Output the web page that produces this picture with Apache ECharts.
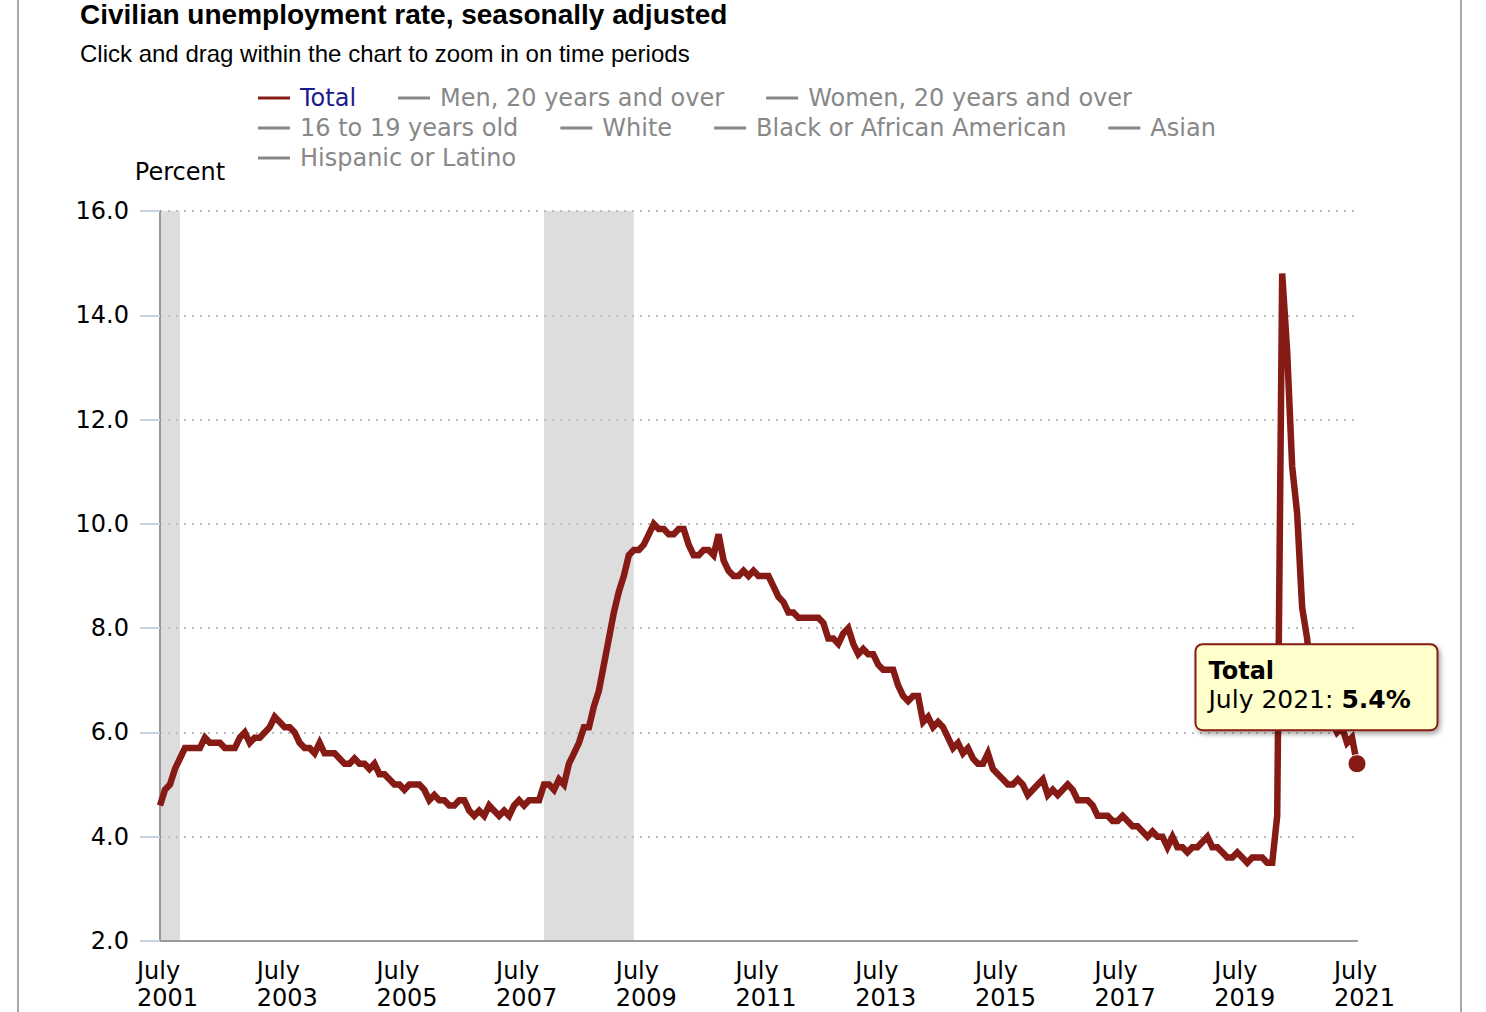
<!DOCTYPE html>
<html><head><meta charset="utf-8">
<script src="https://cdn.jsdelivr.net/npm/echarts/dist/echarts.min.js"></script>
<style>
html,body{margin:0;padding:0;background:#fff;}
#frame{position:absolute;left:17px;top:0;width:1441px;height:1012px;border-left:2px solid #a8a8a8;border-right:2px solid #a8a8a8;}
#chart{position:absolute;left:0;top:0;width:1486px;height:1012px;}
</style></head><body>
<div id="frame"></div><div id="chart"></div>
<script>
const seriesNames = ['Total','Men, 20 years and over','Women, 20 years and over','16 to 19 years old','White','Black or African American','Asian','Hispanic or Latino'];
const monthNames = ['January','February','March','April','May','June','July','August','September','October','November','December'];
const startYear = 2001, startMonth = 7;
// Civilian unemployment rate, Total, monthly from July 2001 to July 2021 (percent)
const totalRate = [
  4.6, 4.9, 5.0, 5.3, 5.5, 5.7,
  5.7, 5.7, 5.7, 5.9, 5.8, 5.8, 5.8, 5.7, 5.7, 5.7, 5.9, 6.0,
  5.8, 5.9, 5.9, 6.0, 6.1, 6.3, 6.2, 6.1, 6.1, 6.0, 5.8, 5.7,
  5.7, 5.6, 5.8, 5.6, 5.6, 5.6, 5.5, 5.4, 5.4, 5.5, 5.4, 5.4,
  5.3, 5.4, 5.2, 5.2, 5.1, 5.0, 5.0, 4.9, 5.0, 5.0, 5.0, 4.9,
  4.7, 4.8, 4.7, 4.7, 4.6, 4.6, 4.7, 4.7, 4.5, 4.4, 4.5, 4.4,
  4.6, 4.5, 4.4, 4.5, 4.4, 4.6, 4.7, 4.6, 4.7, 4.7, 4.7, 5.0,
  5.0, 4.9, 5.1, 5.0, 5.4, 5.6, 5.8, 6.1, 6.1, 6.5, 6.8, 7.3,
  7.8, 8.3, 8.7, 9.0, 9.4, 9.5, 9.5, 9.6, 9.8, 10.0, 9.9, 9.9,
  9.8, 9.8, 9.9, 9.9, 9.6, 9.4, 9.4, 9.5, 9.5, 9.4, 9.8, 9.3,
  9.1, 9.0, 9.0, 9.1, 9.0, 9.1, 9.0, 9.0, 9.0, 8.8, 8.6, 8.5,
  8.3, 8.3, 8.2, 8.2, 8.2, 8.2, 8.2, 8.1, 7.8, 7.8, 7.7, 7.9,
  8.0, 7.7, 7.5, 7.6, 7.5, 7.5, 7.3, 7.2, 7.2, 7.2, 6.9, 6.7,
  6.6, 6.7, 6.7, 6.2, 6.3, 6.1, 6.2, 6.1, 5.9, 5.7, 5.8, 5.6,
  5.7, 5.5, 5.4, 5.4, 5.6, 5.3, 5.2, 5.1, 5.0, 5.0, 5.1, 5.0,
  4.8, 4.9, 5.0, 5.1, 4.8, 4.9, 4.8, 4.9, 5.0, 4.9, 4.7, 4.7,
  4.7, 4.6, 4.4, 4.4, 4.4, 4.3, 4.3, 4.4, 4.3, 4.2, 4.2, 4.1,
  4.0, 4.1, 4.0, 4.0, 3.8, 4.0, 3.8, 3.8, 3.7, 3.8, 3.8, 3.9,
  4.0, 3.8, 3.8, 3.7, 3.6, 3.6, 3.7, 3.6, 3.5, 3.6, 3.6, 3.6,
  3.5, 3.5, 4.4, 14.8, 13.3, 11.1, 10.2, 8.4, 7.8, 6.9, 6.7, 6.7,
  6.3, 6.2, 6.0, 6.1, 5.8, 5.9, 5.4
];
const recessions = [['2001-07','2001-11'],['2007-12','2009-06']];
const yMin = 2, yMax = 16, yInterval = 2;

const categories = [];
for (let i = 0; i < totalRate.length; i++) {
  const m0 = (startMonth - 1) + i;
  const y = startYear + Math.floor(m0 / 12);
  const m = m0 % 12 + 1;
  categories.push(y + '-' + String(m).padStart(2, '0'));
}
const lastCat = categories[categories.length - 1];
const lastVal = totalRate[totalRate.length - 1];
const catLabel = c => monthNames[parseInt(c.slice(5), 10) - 1] + ' ' + c.slice(0, 4);

const lineColor = '#861a14';
const FONT = 'DejaVu Sans, Verdana, sans-serif';

const chart = echarts.init(document.getElementById('chart'), null, {renderer: 'svg'});
const selected = {};
seriesNames.forEach((n, i) => { selected[n] = i === 0; });

const option = {
  animation: false,
  backgroundColor: 'transparent',
  title: [
    {text: 'Civilian unemployment rate, seasonally adjusted', left: 80, top: 0, padding: 0,
     textStyle: {fontFamily: 'Liberation Sans, Arial, sans-serif', fontSize: 28, fontWeight: 'bold', color: '#000', lineHeight: 28}},
    {text: 'Click and drag within the chart to zoom in on time periods', left: 80, top: 41, padding: 0,
     textStyle: {fontFamily: 'Liberation Sans, Arial, sans-serif', fontSize: 24, fontWeight: 'normal', color: '#000', lineHeight: 24}}
  ],
  legend: {
    left: 258, top: 86, width: 1100, padding: 0, itemGap: 6,
    itemWidth: 32, itemHeight: 3, icon: 'rect',
    inactiveColor: '#888', inactiveBorderColor: '#888',
    selectedMode: true,
    textStyle: {fontFamily: FONT, fontSize: 24, lineHeight: 24, color: '#888', padding: [0, 36, 0, 5]},
    selected: selected,
    data: seriesNames.map((n, i) => i === 0 ? {name: n, textStyle: {color: '#1c1c8c'}} : {name: n})
  },
  grid: {left: 160, right: 129, top: 211, bottom: 71, containLabel: false},
  xAxis: {
    type: 'category', data: categories, boundaryGap: false, z: 2,
    axisLine: {show: true, lineStyle: {color: '#999', width: 2}},
    axisTick: {show: false},
    splitLine: {show: false},
    axisLabel: {
      interval: 23, margin: 16, hideOverlap: false,
      formatter: c => '{a|' + monthNames[parseInt(c.slice(5), 10) - 1] + '}\n{a|' + c.slice(0, 4) + '}',
      rich: {a: {fontFamily: FONT, fontSize: 24, lineHeight: 27, color: '#000', width: 58, align: 'left', padding: [0, 0, 0, 12]}}
    }
  },
  yAxis: {
    type: 'value', min: yMin, max: yMax, interval: yInterval, z: 2,
    name: 'Percent', nameLocation: 'end', nameGap: 27,
    nameTextStyle: {fontFamily: FONT, fontSize: 24, color: '#000', padding: [0, 0, 0, 40]},
    axisLine: {show: true, lineStyle: {color: '#999', width: 2}},
    axisTick: {show: true, length: 20, lineStyle: {color: '#c4d2e2', width: 2}},
    axisLabel: {fontFamily: FONT, fontSize: 24, color: '#000', margin: 31, formatter: v => v.toFixed(1)},
    splitLine: {show: true, lineStyle: {type: [2, 6], color: '#bdbdbd', width: 2}}
  },
  series: seriesNames.map((n, i) => {
    if (i > 0) return {name: n, type: 'line', data: [], color: '#888'};
    return {
      name: n, type: 'line', data: totalRate, symbol: 'none', showSymbol: false,
      color: lineColor,
      lineStyle: {color: lineColor, width: 6.5, join: 'miter'},
      emphasis: {disabled: true},
      z: 3,
      markArea: {
        silent: true, z: 1, itemStyle: {color: 'rgba(198,198,198,0.6)'},
        data: recessions.map(r => [{xAxis: r[0]}, {xAxis: r[1]}])
      },
      markPoint: {
        silent: true, animation: false, z: 5,
        data: [{
          coord: [lastCat, lastVal], symbol: 'circle', symbolSize: 18,
          itemStyle: {color: lineColor, borderColor: '#fff', borderWidth: 1},
          label: {
            show: true, position: [-151, -109], align: 'left', verticalAlign: 'top',
            backgroundColor: '#ffffcc', borderColor: lineColor, borderWidth: 2, borderRadius: 6,
            padding: [12, 20, 16, 12], width: 208,
            shadowColor: 'rgba(0,0,0,0.35)', shadowBlur: 5, shadowOffsetX: 2, shadowOffsetY: 3,
            formatter: () => '{t|' + n + '}\n{n|' + catLabel(lastCat) + ': }{b|' + lastVal.toFixed(1) + '%}',
            rich: {
              t: {fontFamily: FONT, fontSize: 24, fontWeight: 'bold', color: '#000', lineHeight: 28},
              n: {fontFamily: FONT, fontSize: 25, color: '#000', lineHeight: 28},
              b: {fontFamily: FONT, fontSize: 25, fontWeight: 'bold', color: '#000', lineHeight: 28}
            }
          }
        }]
      }
    };
  })
};
chart.setOption(option);
</script>
</body></html>
